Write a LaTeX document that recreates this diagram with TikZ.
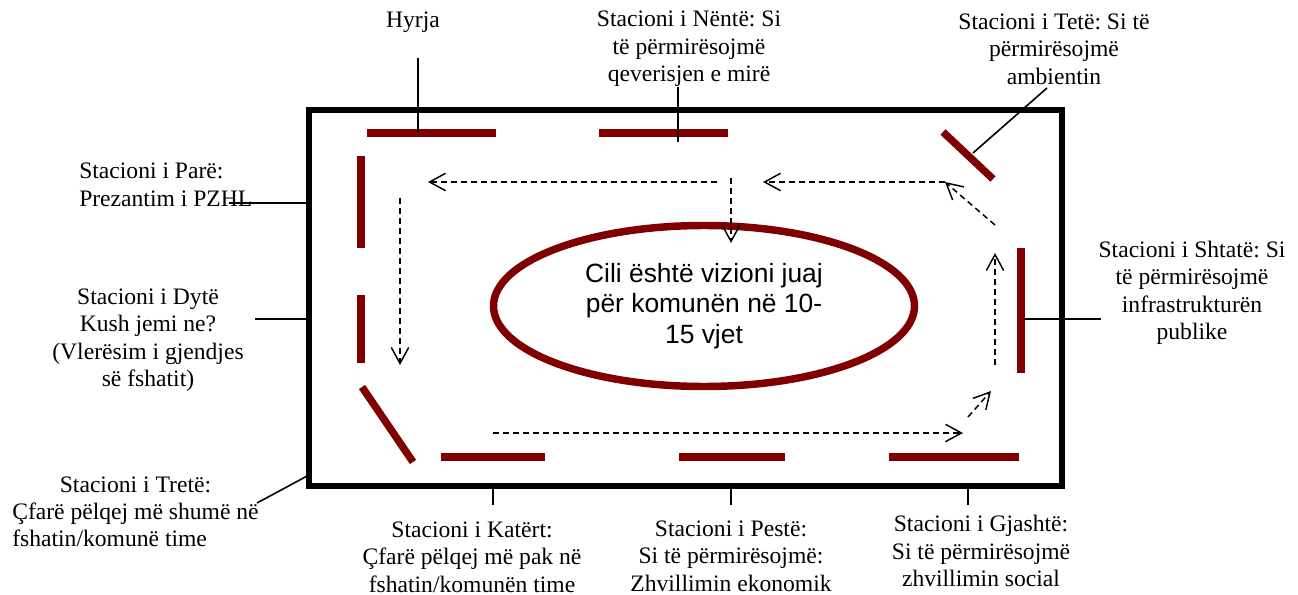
\documentclass[tikz,border=0pt]{standalone}
\usepackage{fontspec}
\setmainfont{Liberation Serif}
\newfontfamily\arialfont{Liberation Sans}
\usetikzlibrary{arrows.meta,shapes.geometric}
\definecolor{darkred}{HTML}{800000}
\frenchspacing
\tikzset{
  wall/.style={darkred, line width=5.6pt},
  txt/.style={inner sep=0pt, font=\fontsize{17.7}{20.6}\selectfont},
  lbl/.style={txt, align=center},
  leader/.style={line width=1.2pt},
  flow/.style={line width=1.1pt, dash pattern=on 4.5pt off 3pt, -{Straight Barb[length=12pt,width=13pt]}},
}
\begin{document}
\begin{tikzpicture}[x=0.75pt, y=-0.75pt]
  \useasboundingbox (0,0) rectangle (1298,595);
  \draw[line width=4.5pt] (309,110) rectangle (1062,486);
  % stations
  \draw[wall] (367,133) -- (496,133); % hyrja
  \draw[wall] (599,133) -- (728,133); % nente
  \draw[wall] (943,132) -- (993,179); % tete
  \draw[wall] (1021,248) -- (1021,373); % shtate
  \draw[wall] (889,457) -- (1019,457); % gjashte
  \draw[wall] (679,457) -- (785,457); % peste
  \draw[wall] (441,457) -- (545,457); % katert
  \draw[wall] (362,387) -- (413,462); % trete
  \draw[wall] (361,295) -- (361,363); % dyte
  \draw[wall] (361,156) -- (361,248); % pare
  \node[ellipse, draw=darkred, line width=5.6pt, minimum width=315.75pt, minimum height=120.75pt,
        inner sep=0pt, align=center, font=\arialfont\fontsize{19.8}{22.9}\selectfont]
        (vizioni) at (704,306) {Cili është vizioni juaj\\për komunën në 10-\\15 vjet};
  % labels
  \node[lbl] (hyrja) at (413,22) {Hyrja};
  \node[lbl] (nente) at (689,49) {Stacioni i Nëntë: Si\\të përmirësojmë\\qeverisjen e mirë};
  \node[lbl] (tete) at (1054,49) {Stacioni i Tetë: Si të\\përmirësojmë\\ambientin};
  \node[lbl, align=left, anchor=west] (pare) at (79,185) {Stacioni i Parë:\\Prezantim i PZHL};
  \node[lbl] (dyte) at (148,340) {Stacioni i Dytë\\Kush jemi ne?\\(Vlerësim i gjendjes\\së fshatit)};
  \node[txt, anchor=west] (trete) at (12,514) {\begin{tabular}{@{}l@{}}\multicolumn{1}{@{}c@{}}{Stacioni i Tretë:}\\Çfarë pëlqej më shumë në\\fshatin/komunë time\end{tabular}};
  \node[lbl] (katert) at (472,557) {Stacioni i Katërt:\\Çfarë pëlqej më pak në\\fshatin/komunën time};
  \node[lbl] (peste) at (731,556) {Stacioni i Pestë:\\Si të përmirësojmë:\\Zhvillimin ekonomik};
  \node[lbl] (gjashte) at (981,551) {Stacioni i Gjashtë:\\Si të përmirësojmë\\zhvillimin social};
  \node[lbl] (shtate) at (1192,293) {Stacioni i Shtatë: Si\\të përmirësojmë\\infrastrukturën\\publike};
  % leader ends
  \coordinate (hyrja-a) at (418,58);   \coordinate (hyrja-b) at (418,133);
  \coordinate (nente-a) at (678,87);   \coordinate (nente-b) at (678,142);
  \coordinate (tete-a) at (1047,88);   \coordinate (tete-b) at (973,153);
  \coordinate (pare-a) at (229,203);   \coordinate (pare-b) at (309,203);
  \coordinate (dyte-a) at (255,319);   \coordinate (dyte-b) at (309,319);
  \coordinate (trete-a) at (257,503);  \coordinate (trete-b) at (309,475);
  \coordinate (katert-a) at (493,505); \coordinate (katert-b) at (493,488);
  \coordinate (peste-a) at (731,505);  \coordinate (peste-b) at (731,488);
  \coordinate (gjashte-a) at (968,505); \coordinate (gjashte-b) at (968,488);
  \coordinate (shtate-a) at (1101,319); \coordinate (shtate-b) at (1024,319);
  \draw[leader] (hyrja-a) -- (hyrja-b);
  \draw[leader] (nente-a) -- (nente-b);
  \draw[leader] (tete-a) -- (tete-b);
  \draw[leader] (pare-a) -- (pare-b);
  \draw[leader] (dyte-a) -- (dyte-b);
  \draw[leader] (trete-a) -- (trete-b);
  \draw[leader] (katert-a) -- (katert-b);
  \draw[leader] (peste-a) -- (peste-b);
  \draw[leader] (gjashte-a) -- (gjashte-b);
  \draw[leader] (shtate-a) -- (shtate-b);
  % route
  \coordinate (r1) at (400,198);  \coordinate (r2) at (400,365);
  \coordinate (r3) at (493,433);  \coordinate (r4) at (963,433);
  \coordinate (r5) at (968,417);  \coordinate (r6) at (991,391);
  \coordinate (r7) at (995,365);  \coordinate (r8) at (995,253);
  \coordinate (r9) at (995,225);  \coordinate (r10) at (945,182);
  \coordinate (r11) at (763,182); \coordinate (r12) at (717,182);
  \coordinate (r13) at (428,182); \coordinate (r14) at (731,178);
  \coordinate (r15) at (731,243);
  \draw[flow] (r1) -- (r2);
  \draw[flow] (r3) -- (r4);
  \draw[flow] (r5) -- (r6);
  \draw[flow] (r7) -- (r8);
  \draw[flow] (r9) -- (r10);
  \draw[flow] (r10) -- (r11);
  \draw[flow] (r12) -- (r13);
  \draw[flow] (r14) -- (r15);
\end{tikzpicture}
\end{document}
